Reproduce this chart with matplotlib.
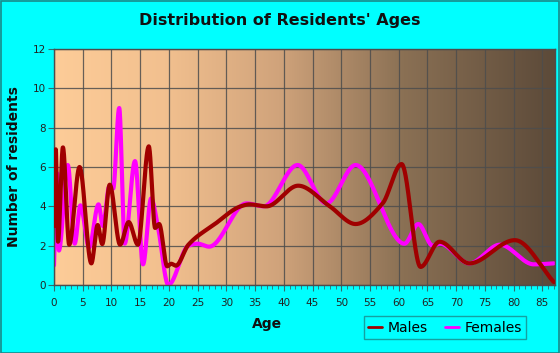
import numpy as np
import matplotlib
matplotlib.use('Agg')
import matplotlib.pyplot as plt
from matplotlib.patches import Rectangle
from matplotlib.colors import LinearSegmentedColormap

# values (age, number of residents)
male_age = [0, 0.3, 0.7, 1.55, 2.65, 4.45, 6.5, 7.6, 8.4, 9.7, 11.5, 13.0, 14.6,
            16.5, 17.6, 18.3, 19.7, 20.4, 21.2, 23.4, 28.0, 32.5, 34.0, 37.0,
            42.5, 48.0, 52.5, 57.2, 60.5, 63.8, 67.1, 72.3, 80.2, 87.0]
male_val = [3.0, 6.9, 2.2, 7.0, 2.05, 6.0, 1.1, 3.05, 2.08, 5.1, 2.05, 3.2, 2.05,
            7.05, 2.9, 3.1, 0.95, 1.08, 0.98, 2.05, 3.1, 4.0, 4.1, 4.0,
            5.05, 4.0, 3.1, 4.15, 6.15, 0.92, 2.2, 1.1, 2.28, 0.15]

female_age = [0, 0.55, 0.85, 2.4, 3.6, 4.6, 6.1, 7.75, 8.5, 9.6, 10.3, 11.35, 12.3,
              14.1, 15.5, 16.9, 18.1, 19.9, 23.4, 25.0, 27.0, 33.5, 36.5, 42.4,
              47.4, 52.5, 61.0, 63.4, 65.9, 67.2, 72.3, 77.6, 83.5, 87.0]
female_val = [1.0, 5.7, 1.75, 6.1, 2.1, 4.05, 1.9, 4.1, 3.0, 5.0, 4.9, 9.0, 2.1,
              6.3, 1.05, 4.4, 2.95, 0.0, 2.0, 2.1, 1.95, 4.15, 4.0, 6.1,
              4.15, 6.1, 2.1, 3.1, 2.0, 2.1, 1.1, 2.05, 1.05, 1.1]

x_ticks = list(range(0, 90, 5))
y_ticks = list(range(0, 14, 2))


# monotone cubic (Fritsch-Carlson) used only to draw the smooth line
def smooth_line(x, y, num=2000):
    x = np.asarray(x, float)
    y = np.asarray(y, float)
    h = np.diff(x)
    delta = np.diff(y) / h
    d = np.zeros(len(x))
    d[0] = delta[0]
    d[-1] = delta[-1]
    for k in range(1, len(x) - 1):
        if delta[k - 1] * delta[k] > 0:
            w1 = 2 * h[k] + h[k - 1]
            w2 = h[k] + 2 * h[k - 1]
            d[k] = (w1 + w2) / (w1 / delta[k - 1] + w2 / delta[k])
    xs = np.linspace(x[0], x[-1], num)
    idx = np.clip(np.searchsorted(x, xs) - 1, 0, len(x) - 2)
    t = (xs - x[idx]) / h[idx]
    h00 = 2 * t**3 - 3 * t**2 + 1
    h10 = t**3 - 2 * t**2 + t
    h01 = -2 * t**3 + 3 * t**2
    h11 = t**3 - t**2
    ys = h00 * y[idx] + h10 * h[idx] * d[idx] + h01 * y[idx + 1] + h11 * h[idx] * d[idx + 1]
    return xs, ys


fig = plt.figure(figsize=(5.6, 3.53), dpi=100)
fig.patch.set_facecolor('#00ffff')
fig.patches.append(Rectangle((0.001, 0.001), 0.997, 0.996, transform=fig.transFigure,
                             fill=False, edgecolor='#1a8a8a', linewidth=1.2))

ax = fig.add_axes([54 / 560, 68 / 353, 501 / 560, 236 / 353])
xmax, ymax = 87.2, 12

# background gradient
cmap = LinearSegmentedColormap.from_list('bg', [(0.0, '#fdcc98'), (0.22, '#f2c08f'),
                                                (0.45, '#d0a37b'), (0.7, '#8a7054'),
                                                (1.0, '#5c4a39')])
grad = np.linspace(0, 1, 256).reshape(1, -1)
ax.imshow(grad, cmap=cmap, aspect='auto', extent=[0, xmax, 0, ymax], zorder=0)

xs, ys = smooth_line(female_age, female_val)
ax.plot(xs, ys, color='#ff00ff', linewidth=3, label='Females', zorder=2,
        solid_capstyle='round')
xs, ys = smooth_line(male_age, male_val)
ax.plot(xs, ys, color='#a00000', linewidth=3, label='Males', zorder=3,
        solid_capstyle='round')

ax.set_xlim(0, xmax)
ax.set_ylim(0, ymax)
ax.set_xticks(x_ticks)
ax.set_xticks(range(0, 88), minor=True)
ax.set_yticks(y_ticks)
ax.set_axisbelow(True)
ax.grid(True, color='#4d4d4d', linewidth=0.9, alpha=0.85)
ax.tick_params(axis='both', which='both', direction='out', color='#2f6f6f',
               labelsize=7.5, labelcolor='#222222')
ax.tick_params(axis='x', which='major', length=4, pad=5)
ax.tick_params(axis='x', which='minor', length=3)
ax.tick_params(axis='y', length=4, pad=2)
for s in ax.spines.values():
    s.set_color('#4d4d4d')
    s.set_linewidth(1)

fig.text(0.5, 1 - 20 / 353, "Distribution of Residents' Ages", ha='center', va='center',
         fontsize=11.5, fontweight='bold', color='#111111')
fig.text(14 / 560, 1 - 167 / 353, 'Number of residents', ha='center', va='center',
         rotation=90, fontsize=10, fontweight='bold', color='#111111')
fig.text(267 / 560, 1 - 324 / 353, 'Age', ha='center', va='center',
         fontsize=10, fontweight='bold', color='#111111')

h, l = ax.get_legend_handles_labels()
leg = fig.legend(h[::-1], l[::-1], loc='center', bbox_to_anchor=(445 / 560, 1 - 327.5 / 353),
                 ncol=2, fontsize=10, frameon=True, fancybox=False, handlelength=1.0,
                 handletextpad=0.4, columnspacing=1.2, borderpad=0.3)
leg.get_frame().set_facecolor('#00ffff')
leg.get_frame().set_edgecolor('#1a8a8a')
leg.get_frame().set_linewidth(1)
for line in leg.get_lines():
    line.set_linewidth(2)

fig.savefig('out.png', dpi=100, facecolor=fig.get_facecolor())
